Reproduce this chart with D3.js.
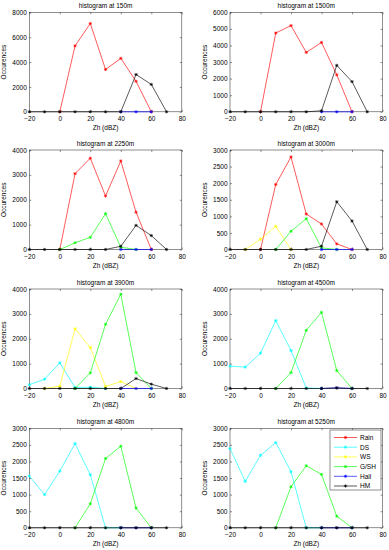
<!DOCTYPE html>
<html>
<head>
<meta charset="utf-8">
<script src="https://cdn.jsdelivr.net/npm/d3@7"></script>
<style>
	body { margin: 0; background: #fff; }
	svg { display: block; font-family: "Liberation Sans", Arial, Helvetica, sans-serif; }
	.axis text { font-size: 6.5px; fill: #000; }
	.axis line { stroke: #333; stroke-width: 0.55; }
	.axis path { display: none; }
</style>
</head>
<body>
<div id="chart"></div>
<script>
// data
var zh = [-20, -10, 0, 10, 20, 30, 40, 50, 60, 70];
var altitudes = ["150m", "1500m", "2250m", "3000m", "3900m", "4500m", "4800m", "5250m"];
var yMax = [8000, 6000, 4000, 3000, 4000, 4000, 3000, 3000];
var yStep = [2000, 1000, 1000, 500, 1000, 1000, 500, 500];
var classes = ["Rain", "DS", "WS", "G/SH", "Hail", "HM"];
var N = null;

var rain = [
	[N, N, 0, 5300, 7100, 3400, 4300, 2450, 0, N],
	[N, N, 0, 4750, 5200, 3580, 4180, 2230, 0, N],
	[N, N, 0, 3050, 3670, 2150, 3560, 1500, 0, N],
	[N, N, 0, 1960, 2790, 1070, 770, 170, 0, N],
	[N, N, N, N, N, N, N, N, N, N],
	[N, N, N, N, N, N, N, N, N, N],
	[N, N, N, N, N, N, N, N, N, N],
	[N, N, N, N, N, N, N, N, N, N]
];
var ds = [
	[N, N, N, N, N, N, N, N, N, N],
	[N, N, N, N, N, N, N, N, N, N],
	[N, N, N, N, N, N, N, N, N, N],
	[N, N, N, N, N, N, N, N, N, N],
	[150, 375, 1030, 40, 50, 0, N, N, N, N],
	[900, 860, 1420, 2730, 1525, 20, 0, N, N, N],
	[1560, 1000, 1710, 2540, 1600, 0, 0, N, N, N],
	[2390, 1400, 2185, 2570, 1690, 0, 0, N, N, N]
];
var ws = [
	[N, N, N, N, N, N, N, N, N, N],
	[N, N, N, N, N, N, N, N, N, N],
	[N, N, N, N, N, N, N, N, N, N],
	[N, 0, 310, 700, 0, N, N, N, N, N],
	[N, 0, 90, 2400, 1645, 80, 280, 0, N, N],
	[N, N, N, N, N, N, N, N, N, N],
	[N, N, N, N, N, N, N, N, N, N],
	[N, N, N, N, N, N, N, N, N, N]
];
var gsh = [
	[N, N, N, N, N, N, N, N, N, N],
	[N, N, N, N, N, N, N, N, N, N],
	[N, N, 0, 270, 490, 1440, 90, 0, N, N],
	[N, N, N, 0, 550, 930, 50, 0, N, N],
	[N, N, N, 0, 630, 2580, 3790, 640, 0, N],
	[N, N, N, 0, 640, 2340, 3060, 720, 0, N],
	[N, N, N, 0, 725, 2090, 2460, 595, 0, N],
	[N, N, N, 0, 1240, 1870, 1610, 350, 0, N]
];
var hail = [
	[N, N, N, N, N, N, 0, 0, 0, N],
	[N, N, N, N, N, N, 0, 0, 0, N],
	[N, N, N, N, N, N, 0, 0, 0, N],
	[N, N, N, N, N, N, 0, 0, 0, N],
	[N, N, N, N, N, N, 0, 0, 0, N],
	[N, N, N, N, N, N, 0, 30, 0, N],
	[N, N, N, N, N, N, 0, 0, 0, N],
	[N, N, N, N, N, N, 0, 0, 0, N]
];
var hm = [
	[0, 0, 0, 0, 0, 0, 0, 3000, 2200, 0],
	[0, 0, 0, 0, 0, 0, 60, 2800, 1820, 0],
	[0, 0, 0, 0, 0, 0, 130, 970, 560, 0],
	[0, 0, 0, 0, 0, 0, 100, 1440, 860, 0],
	[0, 0, 0, 0, 0, 0, 0, 400, 175, 0],
	[0, 0, 0, 0, 0, 0, 0, 20, 0, 0],
	[0, 0, 0, 0, 0, 0, 0, 0, 0, 0],
	[0, 0, 0, 0, 0, 0, 0, 0, 0, 0]
];

var series = [rain, ds, ws, gsh, hail, hm];
var colors = ["#ff0000", "#00ffff", "#ffff00", "#00ff00", "#0000ff", "#000000"];

var width = 389, height = 550;
var colLeft = [29.3, 230];
var rowTop = [12.3, 150, 289, 428.3];
var pw = 152.5, ph = 99.5;

var svg = d3.select("#chart").append("svg")
	.attr("width", width)
	.attr("height", height);

// matlab style '*' marker
function star(r) {
	var d = r * 0.72;
	return "M" + (-r) + ",0H" + r + "M0," + (-r) + "V" + r +
		"M" + (-d) + "," + (-d) + "L" + d + "," + d +
		"M" + (-d) + "," + d + "L" + d + "," + (-d);
}

altitudes.forEach(function(alt, p) {
	var left = colLeft[p % 2];
	var top = rowTop[Math.floor(p / 2)];

	var x = d3.scaleLinear().domain([-20, 80]).range([0, pw]);
	var y = d3.scaleLinear().domain([0, yMax[p]]).range([ph, 0]);
	var yTicks = d3.range(0, yMax[p] + 1, yStep[p]);
	var xTicks = d3.range(-20, 81, 20);

	var g = svg.append("g").attr("transform", "translate(" + left + "," + top + ")");

	g.append("rect")
		.attr("width", pw)
		.attr("height", ph)
		.attr("fill", "none")
		.attr("stroke", "#333")
		.attr("stroke-width", 0.55);

	g.append("g").attr("class", "axis")
		.attr("transform", "translate(0," + ph + ")")
		.call(d3.axisBottom(x).tickValues(xTicks).tickSize(-2).tickPadding(4.5));
	g.append("g").attr("class", "axis")
		.call(d3.axisTop(x).tickValues(xTicks).tickSize(-2).tickFormat(""));
	g.append("g").attr("class", "axis")
		.call(d3.axisLeft(y).tickValues(yTicks).tickSize(-2).tickPadding(2.5).tickFormat(d3.format("d")));
	g.append("g").attr("class", "axis")
		.attr("transform", "translate(" + pw + ",0)")
		.call(d3.axisRight(y).tickValues(yTicks).tickSize(-2).tickFormat(""));

	g.append("text")
		.attr("x", pw / 2)
		.attr("y", -4.5)
		.attr("text-anchor", "middle")
		.attr("font-size", 6.5)
		.text("histogram at " + alt);

	g.append("text")
		.attr("x", pw / 2)
		.attr("y", ph + 18)
		.attr("text-anchor", "middle")
		.attr("font-size", 6.5)
		.text("Zh (dBZ)");

	g.append("text")
		.attr("transform", "translate(-23," + (ph / 2) + ") rotate(-90)")
		.attr("text-anchor", "middle")
		.attr("font-size", 6.5)
		.text("Occurences");

	var line = d3.line()
		.defined(d => d[1] != null)
		.x(d => x(d[0]))
		.y(d => y(d[1]));

	series.forEach(function(s, k) {
		var pts = zh.map((z, i) => [z, s[p][i]]);
		var sg = g.append("g");
		sg.append("path")
			.attr("d", line(pts))
			.attr("fill", "none")
			.attr("stroke", colors[k])
			.attr("stroke-width", 0.65);
		sg.selectAll("path.mk")
			.data(pts.filter(d => d[1] != null))
			.enter().append("path")
			.attr("class", "mk")
			.attr("transform", d => "translate(" + x(d[0]) + "," + y(d[1]) + ")")
			.attr("d", star(1.6))
			.attr("fill", "none")
			.attr("stroke", colors[k])
			.attr("stroke-width", 0.65);
	});

	// legend in the last panel
	if (p == altitudes.length - 1) {
		var lx = 330 - left, ly = 430 - top;
		var lg = g.append("g").attr("transform", "translate(" + lx + "," + ly + ")");
		lg.append("rect")
			.attr("width", 51)
			.attr("height", 60)
			.attr("fill", "#fff")
			.attr("stroke", "#333")
			.attr("stroke-width", 0.55);
		classes.forEach(function(c, k) {
			var ry = 7.5 + k * 9.7;
			lg.append("line")
				.attr("x1", 4).attr("x2", 27)
				.attr("y1", ry).attr("y2", ry)
				.attr("stroke", colors[k])
				.attr("stroke-width", 0.65);
			lg.append("path")
				.attr("transform", "translate(15.5," + ry + ")")
				.attr("d", star(1.6))
				.attr("fill", "none")
				.attr("stroke", colors[k])
				.attr("stroke-width", 0.65);
			lg.append("text")
				.attr("x", 30)
				.attr("y", ry + 2.3)
				.attr("font-size", 6.5)
				.text(c);
		});
	}
});
</script>
</body>
</html>
